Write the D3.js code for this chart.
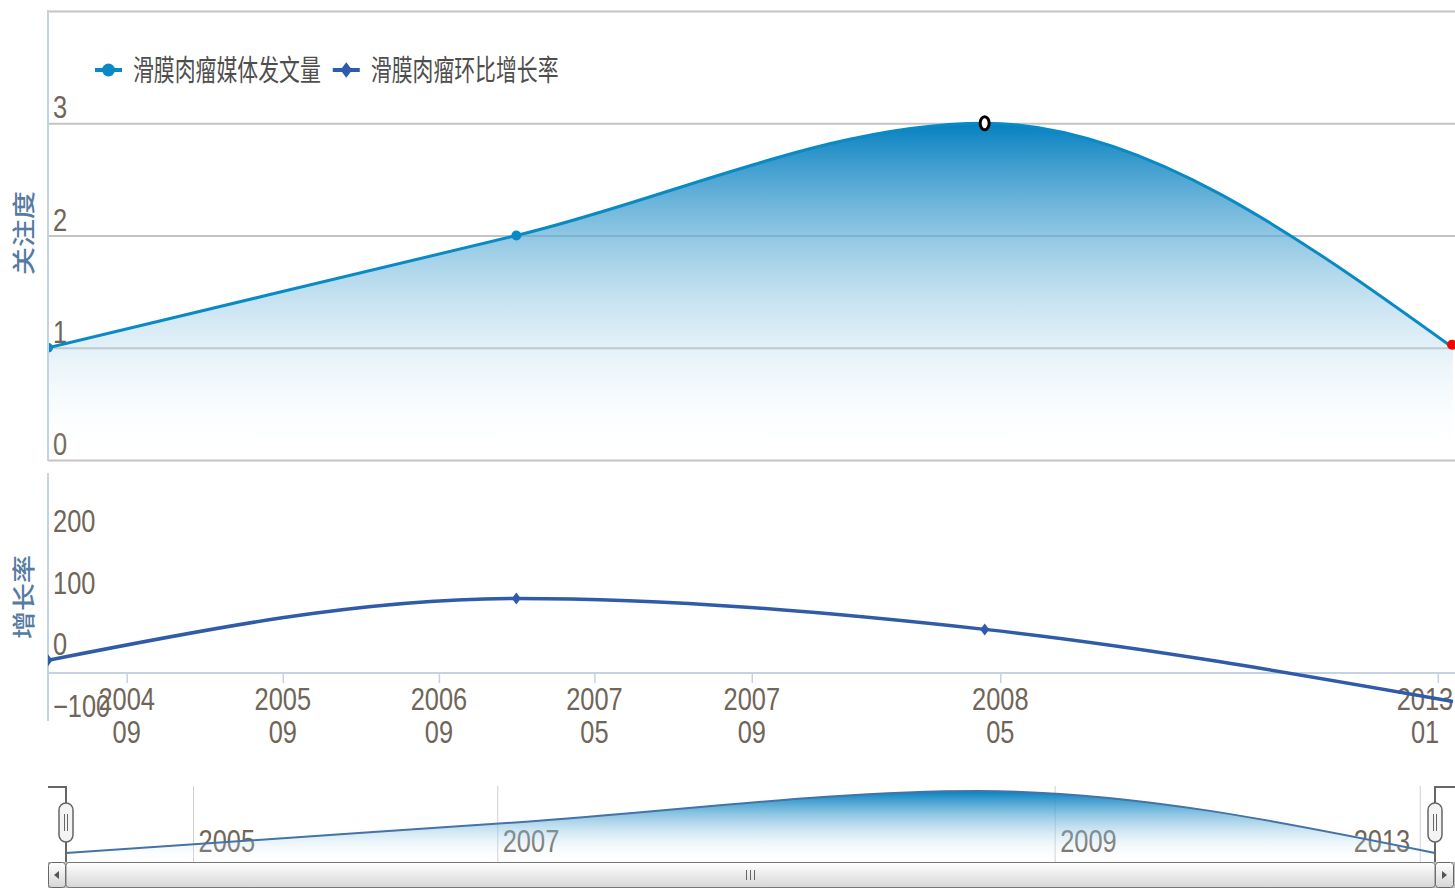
<!DOCTYPE html>
<html><head><meta charset="utf-8">
<script src="https://cdn.jsdelivr.net/npm/d3@7"></script>
<style>html,body{margin:0;padding:0;background:#fff;overflow:hidden}</style>
</head><body><svg id="c" width="1455" height="890"></svg>
<script>
// ---- data ----
const pointDates = ['2004-03', '2007-03', '2008-03', '2013-03'];
const attention = [1, 2, 3, 1];
const growthRate = [0, 100, 50, -66.67];
const seriesNames = ['滑膜肉瘤媒体发文量', '滑膜肉瘤环比增长率'];
const axisTitles = ['关注度', '增长率'];
const attentionTicks = [0, 1, 2, 3, 4];
const growthTicks = [-100, 0, 100, 200, 300];
const xTickDates = ['2004-09', '2005-09', '2006-09', '2007-05', '2007-09', '2008-05', '2013-01'];
const navTickDates = ['2005-01', '2007-01', '2009-01', '2013-01'];

// ---- setup ----
const W = 1455, H = 890;
const svg = d3.select('#c');
const parse = d3.timeParse('%Y-%m');
const T = pointDates.map(parse);
function ord(s) {
  const t = parse(s);
  for (let i = 0; i < T.length - 1; i++) {
    if (t <= T[i + 1]) return i + (t - T[i]) / (T[i + 1] - T[i]);
  }
  return T.length - 1;
}
const idx = attention.map((d, i) => i);
const C1 = '#0a8ac4', C2 = '#2f5ba8', LBL = '#706558', TITLE = '#557ba2';
const NUMFONT = '"Liberation Sans", Arial, sans-serif';
const CJK = '"Noto Sans CJK SC", sans-serif';

const x = d3.scaleLinear().domain([0, idx.length - 1]).range([48, 1453]);
const yTop = d3.scaleLinear().domain([0, 4]).range([460, 11]);
const yBot = d3.scaleLinear().domain([-100, 300]).range([722, 475]);
const xNav = d3.scaleLinear().domain([0, idx.length - 1]).range([66, 1435]);
const yNav = d3.scaleLinear().domain([1, 3]).range([853, 791]);

const defs = svg.append('defs');
const grad = defs.append('linearGradient').attr('id', 'ag').attr('x1', 0).attr('y1', 0).attr('x2', 0).attr('y2', 1);
grad.append('stop').attr('offset', 0).attr('stop-color', '#0580c0').attr('stop-opacity', 1);
grad.append('stop').attr('offset', 1).attr('stop-color', '#ffffff').attr('stop-opacity', 0);
const sg = defs.append('linearGradient').attr('id', 'sg').attr('x1', 0).attr('y1', 0).attr('x2', 0).attr('y2', 1);
sg.append('stop').attr('offset', 0).attr('stop-color', '#ffffff');
sg.append('stop').attr('offset', 1).attr('stop-color', '#d6d6d6');
defs.append('clipPath').attr('id', 'cpTop').append('rect').attr('x', 48).attr('y', 0).attr('width', W - 48).attr('height', 462);
defs.append('clipPath').attr('id', 'cpBot').append('rect').attr('x', 48).attr('y', 470).attr('width', W - 48).attr('height', 260);

function txt(g, px, py, s, o) {
  return g.append('text')
    .attr('transform', `translate(${px},${py}) scale(${o.sx || 0.82},1)`)
    .attr('text-anchor', o.anchor || 'start')
    .attr('font-family', o.family || NUMFONT)
    .attr('font-size', o.size || 31)
    .attr('font-weight', o.weight || 'normal')
    .attr('fill', o.fill || LBL)
    .text(s);
}

// ---- top pane ----
const gTop = svg.append('g');
const gTopAxis = gTop.append('g').attr('transform', 'translate(48,0)')
  .call(d3.axisRight(yTop).tickValues(attentionTicks).tickSize(W - 48).tickFormat(''));
gTopAxis.select('.domain').remove();
gTopAxis.selectAll('.tick line').attr('stroke', '#c4c4c4').attr('stroke-width', 2);
attentionTicks.slice(0, -1).forEach(v => txt(gTop, 53, yTop(v) - 5, d3.format('d')(v), {}));

const area = d3.area().x(i => x(i)).y0(yTop(0)).y1(i => yTop(attention[i])).curve(d3.curveMonotoneX);
const line1 = d3.line().x(i => x(i)).y(i => yTop(attention[i])).curve(d3.curveMonotoneX);
const pTop = gTop.append('g').attr('clip-path', 'url(#cpTop)');
pTop.append('path').attr('d', area(idx)).attr('fill', 'url(#ag)');
pTop.append('path').attr('d', line1(idx)).attr('fill', 'none').attr('stroke', C1).attr('stroke-width', 3);
pTop.selectAll('circle.m').data(idx.slice(0, 2)).join('circle')
  .attr('cx', i => x(i)).attr('cy', i => yTop(attention[i])).attr('r', 5).attr('fill', C1);
gTop.append('line').attr('x1', 48).attr('x2', 48).attr('y1', 10).attr('y2', 461).attr('stroke', '#c4d2e2').attr('stroke-width', 2);
// highlighted markers
gTop.append('ellipse').attr('cx', x(2)).attr('cy', yTop(attention[2])).attr('rx', 4.5).attr('ry', 6.5)
  .attr('fill', '#fff').attr('stroke', '#000').attr('stroke-width', 3);
gTop.append('circle').attr('cx', x(3) - 1).attr('cy', yTop(attention[3]) - 3).attr('r', 5).attr('fill', '#f00');

// ---- bottom pane ----
const gBot = svg.append('g');
growthTicks.slice(0, -1).forEach(v => txt(gBot, 53, yBot(v) - 5, d3.format('d')(v), {}));
gBot.append('line').attr('x1', 48).attr('x2', 48).attr('y1', 473).attr('y2', 721).attr('stroke', '#c4d2e2').attr('stroke-width', 2);
const gx = gBot.append('g').attr('transform', 'translate(0,673)')
  .call(d3.axisBottom(x).tickValues(xTickDates.map(ord)).tickSize(10).tickFormat(''));
gx.select('.domain').attr('d', `M48,0H${W}`).attr('stroke', '#c4d2e2').attr('stroke-width', 2);
gx.selectAll('.tick line').attr('stroke', '#c4d2e2').attr('stroke-width', 1.5);
xTickDates.forEach(s => {
  const px = x(ord(s));
  const [yy, mm] = s.split('-');
  const half = 30;
  const cx = Math.min(px, W - half);
  txt(gBot, cx, 710, yy, { anchor: 'middle' });
  txt(gBot, cx, 743, mm, { anchor: 'middle' });
});
const line2 = d3.line().x(i => x(i)).y(i => yBot(growthRate[i])).curve(d3.curveMonotoneX);
const pBot = gBot.append('g').attr('clip-path', 'url(#cpBot)');
pBot.append('path').attr('d', line2(idx)).attr('fill', 'none').attr('stroke', C2).attr('stroke-width', 3.5);
const diamond = (cx, cy, s = 1) => `M${cx},${cy - 6 * s}L${cx + 4.5 * s},${cy}L${cx},${cy + 6 * s}L${cx - 4.5 * s},${cy}Z`;
pBot.selectAll('path.d').data(idx.slice(0, 3)).join('path')
  .attr('d', i => diamond(x(i), yBot(growthRate[i]))).attr('fill', C2);

// ---- axis titles ----
[[axisTitles[0], 233], [axisTitles[1], 597]].forEach(([s, cy]) => {
  svg.append('text').attr('transform', `translate(32,${cy}) rotate(-90) scale(1,0.8)`)
    .attr('text-anchor', 'middle').attr('font-family', CJK).attr('font-size', 28)
    .attr('font-weight', 500).attr('fill', TITLE).text(s);
});

// ---- legend ----
const leg = svg.append('g');
let lx = 95;
seriesNames.forEach((name, k) => {
  const col = k === 0 ? C1 : C2;
  leg.append('line').attr('x1', lx).attr('x2', lx + 27).attr('y1', 70).attr('y2', 70).attr('stroke', col).attr('stroke-width', 4);
  if (k === 0) leg.append('circle').attr('cx', lx + 13.5).attr('cy', 70).attr('r', 6.5).attr('fill', col);
  else leg.append('path').attr('d', diamond(lx + 13.5, 70, 1.3)).attr('fill', col);
  const t = txt(leg, lx + 38, 81, name, { family: CJK, size: 29, sx: 0.72, fill: '#4e4e4e' });
  const w = t.node().getComputedTextLength() * 0.72;
  lx = lx + 38 + w + 12;
});

// ---- navigator ----
const nav = svg.append('g');
navTickDates.forEach(s => {
  const px = xNav(ord(s));
  nav.append('line').attr('x1', px).attr('x2', px).attr('y1', 786).attr('y2', 862).attr('stroke', '#d0d0d0').attr('stroke-width', 1);
  const yy = s.split('-')[0];
  if (px + 5 + 60 > 1435) txt(nav, px - 10, 852, yy, { anchor: 'end' });
  else txt(nav, px + 5, 852, yy, {});
});
const navArea = d3.area().x(i => xNav(i)).y0(862).y1(i => yNav(attention[i])).curve(d3.curveMonotoneX);
const navLine = d3.line().x(i => xNav(i)).y(i => yNav(attention[i])).curve(d3.curveMonotoneX);
nav.append('path').attr('d', navArea(idx)).attr('fill', 'url(#ag)');
nav.append('path').attr('d', navLine(idx)).attr('fill', 'none').attr('stroke', '#4572a7').attr('stroke-width', 2);
nav.append('path').attr('d', `M48,787H${xNav.range()[0]}V862M${xNav.range()[1]},862V787H${W}`)
  .attr('fill', 'none').attr('stroke', '#666').attr('stroke-width', 2);

// scrollbar
const sb = svg.append('g');
sb.append('rect').attr('x', 48.5).attr('y', 862.5).attr('width', W - 49).attr('height', 25).attr('fill', '#eee').attr('stroke', '#bbb');
sb.append('rect').attr('x', 48.5).attr('y', 862.5).attr('width', 17).attr('height', 25).attr('rx', 3).attr('fill', 'url(#sg)').attr('stroke', '#666');
sb.append('rect').attr('x', W - 19.5).attr('y', 862.5).attr('width', 18).attr('height', 25).attr('rx', 3).attr('fill', 'url(#sg)').attr('stroke', '#666');
sb.append('rect').attr('x', xNav.range()[0]).attr('y', 862.5).attr('width', xNav.range()[1] - xNav.range()[0]).attr('height', 25).attr('rx', 3).attr('fill', 'url(#sg)').attr('stroke', '#777');
sb.append('path').attr('d', 'M59,871L54,875L59,879Z').attr('fill', '#555');
sb.append('path').attr('d', `M${W - 13},871L${W - 8},875L${W - 13},879Z`).attr('fill', '#555');
const gc = (xNav.range()[0] + xNav.range()[1]) / 2;
[-4, 0, 4].forEach(d => sb.append('line').attr('x1', gc + d).attr('x2', gc + d).attr('y1', 870).attr('y2', 880).attr('stroke', '#666'));

// handles
xNav.range().forEach(hx => {
  const g = svg.append('g');
  g.append('rect').attr('x', hx - 7).attr('y', 803).attr('width', 14).attr('height', 39).attr('rx', 7)
    .attr('fill', '#f4f4f4').attr('stroke', '#666').attr('stroke-width', 1.5);
  [-1.5, 1.5].forEach(d => g.append('line').attr('x1', hx + d).attr('x2', hx + d).attr('y1', 814).attr('y2', 831).attr('stroke', '#666'));
});
</script></body></html>
